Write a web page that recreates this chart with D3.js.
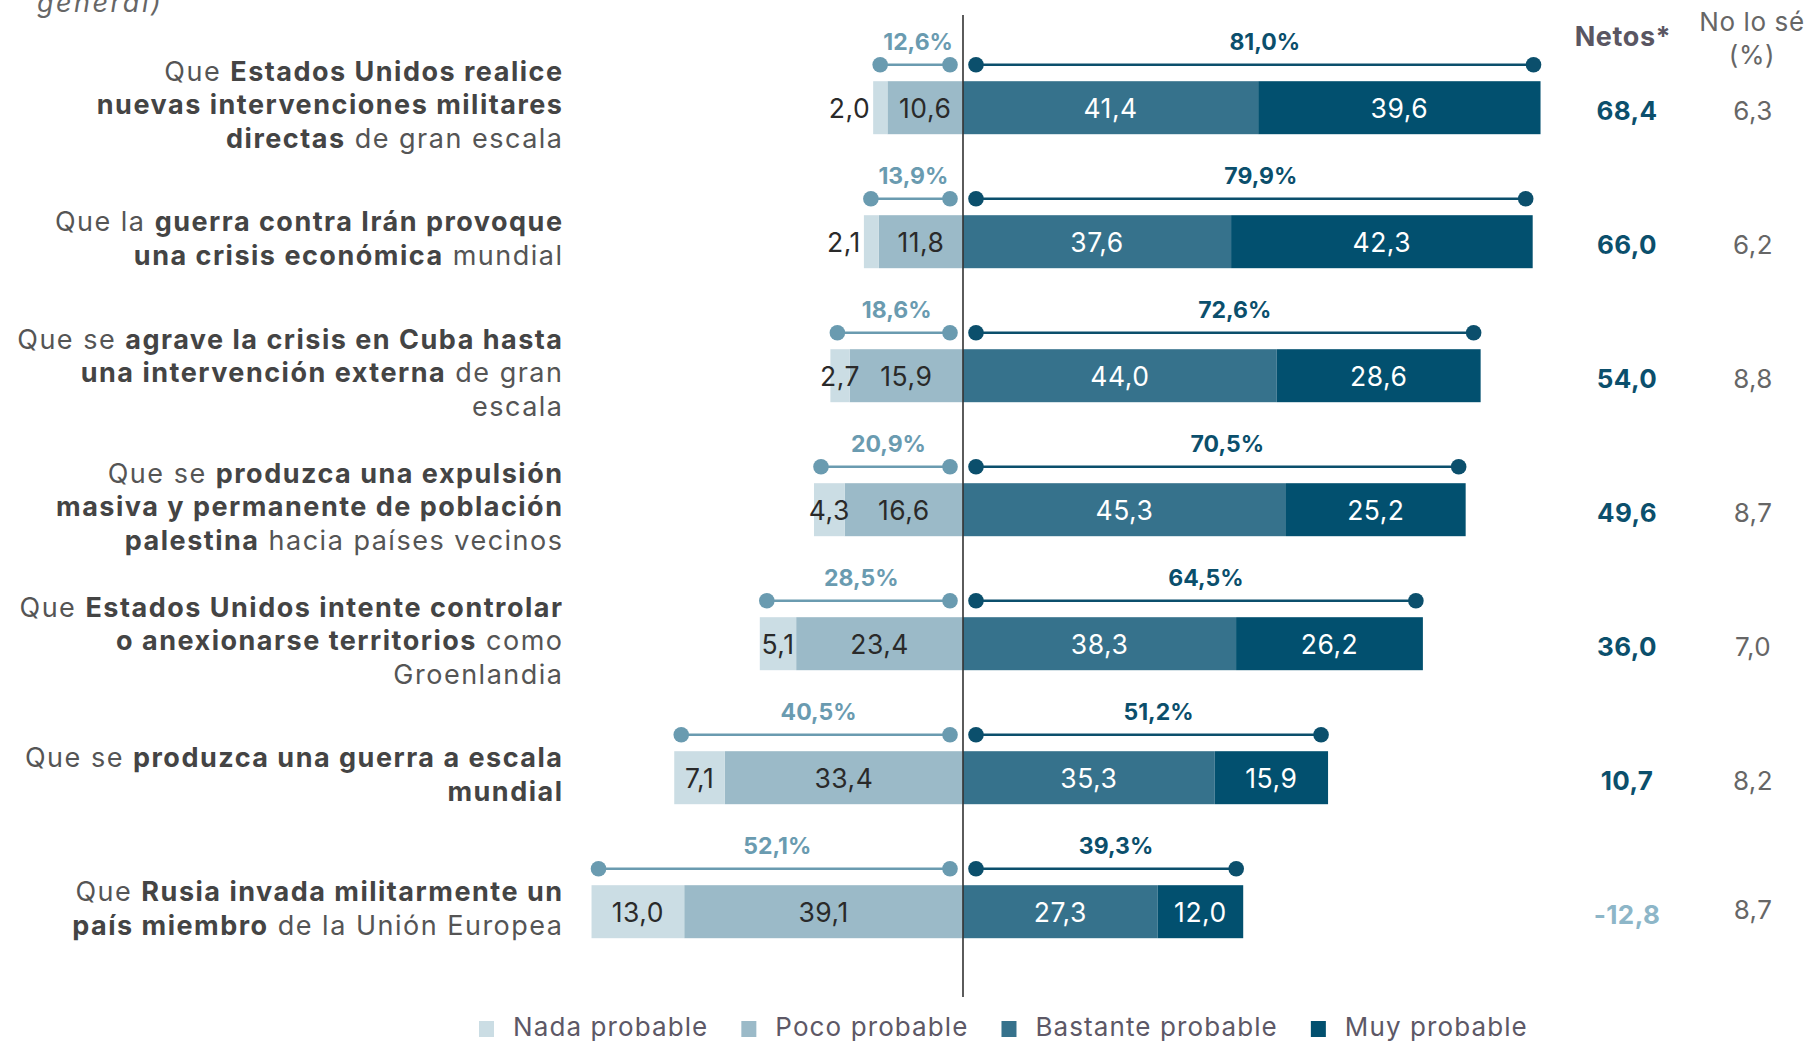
<!DOCTYPE html>
<html>
<head>
<meta charset="utf-8">
<script src="https://cdn.jsdelivr.net/npm/d3@7"></script>
<style>
  body { margin: 0; background: #fff; }
  svg text { font-family: Inter, "Open Sans", sans-serif; }
</style>
</head>
<body>
<div id="chart-area"></div>
<script>
// data (percent)
// each label line: **bold** parts, lines split with |
const labels = [
  "Que **Estados Unidos realice**|**nuevas intervenciones militares**|**directas** de gran escala",
  "Que la **guerra contra Irán provoque**|**una crisis económica** mundial",
  "Que se **agrave la crisis en Cuba hasta**|**una intervención externa** de gran|escala",
  "Que se **produzca una expulsión**|**masiva y permanente de población**|**palestina** hacia países vecinos",
  "Que **Estados Unidos intente controlar**|**o anexionarse territorios** como|Groenlandia",
  "Que se **produzca una guerra a escala**|**mundial**",
  "Que **Rusia invada militarmente un**|**país miembro** de la Unión Europea"
]
const nada     = [2.0, 2.1, 2.7, 4.3, 5.1, 7.1, 13.0]
const poco     = [10.6, 11.8, 15.9, 16.6, 23.4, 33.4, 39.1]
const bastante = [41.4, 37.6, 44.0, 45.3, 38.3, 35.3, 27.3]
const muy      = [39.6, 42.3, 28.6, 25.2, 26.2, 15.9, 12.0]
const totalNo  = [12.6, 13.9, 18.6, 20.9, 28.5, 40.5, 52.1]
const totalSi  = [81.0, 79.9, 72.6, 70.5, 64.5, 51.2, 39.3]
const netos    = [68.4, 66.0, 54.0, 49.6, 36.0, 10.7, -12.8]
const noLoSe   = [6.3, 6.2, 8.8, 8.7, 7.0, 8.2, 8.7]
const legendLabels = ["Nada probable", "Poco probable", "Bastante probable", "Muy probable"]

const W = 1808, H = 1043
const CENTER = 963, UNIT = 7.13

const COLORS = {nada: "#cbdde4", poco: "#9bbac8", bastante: "#36728c", muy: "#02506f"}
const NO_COLOR = "#6a9bb0", SI_COLOR = "#0b4f6c"

const loc = d3.formatLocale({decimal: ",", thousands: ".", grouping: [3], currency: ["", "€"], minus: "-"})
const f1 = loc.format(".1f")

const svg = d3.select("#chart-area").append("svg")
  .attr("width", W)
  .attr("height", H)

const idx = labels.map((d, i) => i)

const x = d3.scaleLinear()
  .domain([-60, 90])
  .range([CENTER - 60 * UNIT, CENTER + 90 * UNIT])

const y = d3.scalePoint()
  .domain(idx)
  .range([107.7, 911.7])

const BAR_H = 53

// stacked rows, "no" side negative
const table = idx.map(i => ({i, nada: -nada[i], poco: -poco[i], bastante: bastante[i], muy: muy[i]}))
const keys = ["poco", "nada", "bastante", "muy"]
const series = d3.stack().keys(keys).offset(d3.stackOffsetDiverging)(table)

// top-left leftover text (cut in the original too)
svg.append("text")
  .attr("x", 37).attr("y", 12)
  .attr("font-size", 27).attr("font-style", "italic")
  .attr("letter-spacing", 2.5)
  .attr("fill", "#666")
  .text("general)")

// row labels
const lab = svg.append("g")
labels.forEach((s, i) => {
  const lines = s.split("|")
  const y0 = y(i) + 6.5 - (lines.length - 1) / 2 * 33.6
  lines.forEach((line, j) => {
    const t = lab.append("text")
      .attr("x", 563.5)
      .attr("y", y0 + j * 33.6)
      .attr("text-anchor", "end")
      .attr("font-size", 27)
      .attr("letter-spacing", 1.5)
    line.split("**").forEach((part, k) => {
      if (!part) return
      t.append("tspan")
        .attr("font-weight", k % 2 ? 700 : 400)
        .attr("fill", k % 2 ? "#444" : "#555")
        .text(part)
    })
  })
})

// bars
const layers = svg.selectAll("g.layer")
  .data(series)
  .enter().append("g")
    .attr("class", "layer")
    .attr("fill", d => COLORS[d.key])

layers.selectAll("rect")
  .data(d => d)
  .enter().append("rect")
    .attr("x", d => x(d[0]))
    .attr("y", d => y(d.data.i) - BAR_H / 2)
    .attr("width", d => x(d[1]) - x(d[0]))
    .attr("height", BAR_H)

// segment values
series.forEach(s => {
  const dark = s.key === "bastante" || s.key === "muy"
  const outside = d => s.key === "nada" && Math.abs(d[1] - d[0]) < 2.5
  svg.append("g").selectAll("text")
    .data(s)
    .enter().append("text")
      .attr("x", d => outside(d) ? x(d[0]) - 3 : (x(d[0]) + x(d[1])) / 2)
      .attr("y", d => y(d.data.i) + 10)
      .attr("text-anchor", d => outside(d) ? "end" : "middle")
      .attr("font-size", 26.5)
      .attr("letter-spacing", 0.5)
      .attr("fill", dark ? "#fff" : "#2a2a2a")
      .text(d => f1(Math.abs(d[1] - d[0])))
})

// center line
svg.append("line")
  .attr("x1", x(0)).attr("x2", x(0))
  .attr("y1", 15).attr("y2", 997)
  .attr("stroke", "#333").attr("stroke-width", 1.6)

// dumbbells with totals
function dumbbell(vals, side, color, shift) {
  const g = svg.append("g")
  idx.forEach(i => {
    const a = x(0) + side * 13
    const b = x(side * vals[i]) - side * 7
    const yy = y(i) - 43
    g.append("line")
      .attr("x1", a).attr("x2", b).attr("y1", yy).attr("y2", yy)
      .attr("stroke", color).attr("stroke-width", 2.6)
    g.selectAll(null).data([a, b]).enter().append("circle")
      .attr("cx", d => d).attr("cy", yy).attr("r", 7.8)
      .attr("fill", color)
    g.append("text")
      .attr("x", (a + b) / 2 + shift)
      .attr("y", y(i) - 58)
      .attr("text-anchor", "middle")
      .attr("font-size", 23).attr("font-weight", 700)
      .attr("fill", color)
      .text(f1(vals[i]) + "%")
  })
}
dumbbell(totalNo, -1, NO_COLOR, 3)
dumbbell(totalSi, 1, SI_COLOR, 10)

// right columns
svg.append("text")
  .attr("x", 1623).attr("y", 46)
  .attr("text-anchor", "middle")
  .attr("font-size", 27).attr("font-weight", 700)
  .attr("letter-spacing", 0.6)
  .attr("fill", "#5a5662")
  .text("Netos*")
svg.append("text")
  .attr("x", 1752).attr("y", 31)
  .attr("text-anchor", "middle")
  .attr("font-size", 26).attr("letter-spacing", 0.6)
  .attr("fill", "#666")
  .text("No lo sé")
svg.append("text")
  .attr("x", 1752).attr("y", 64)
  .attr("text-anchor", "middle")
  .attr("font-size", 26).attr("letter-spacing", 0.6)
  .attr("fill", "#666")
  .text("(%)")

svg.append("g").selectAll("text")
  .data(idx)
  .enter().append("text")
    .attr("x", 1627)
    .attr("y", i => y(i) + 12.5)
    .attr("text-anchor", "middle")
    .attr("font-size", 26).attr("font-weight", 700)
    .attr("letter-spacing", 0.4)
    .attr("fill", i => netos[i] < 0 ? "#8db6c8" : SI_COLOR)
    .text(i => f1(netos[i]))

svg.append("g").selectAll("text")
  .data(idx)
  .enter().append("text")
    .attr("x", 1753)
    .attr("y", i => y(i) + 12.5 - (i === 6 ? 5 : 0))
    .attr("text-anchor", "middle")
    .attr("font-size", 26).attr("letter-spacing", 0.4)
    .attr("fill", "#666")
    .text(i => f1(noLoSe[i]))

// legend
const legendKeys = ["nada", "poco", "bastante", "muy"]
const legend = svg.append("g")
let lx = 479
legendKeys.forEach((k, j) => {
  legend.append("rect")
    .attr("x", lx).attr("y", 1021)
    .attr("width", 15).attr("height", 16)
    .attr("fill", COLORS[k])
  const t = legend.append("text")
    .attr("x", lx + 34).attr("y", 1036)
    .attr("font-size", 26).attr("letter-spacing", 1.1)
    .attr("fill", "#5d5866")
    .text(legendLabels[j])
  lx += 34 + t.node().getComputedTextLength() + 33
})
</script>
</body>
</html>
